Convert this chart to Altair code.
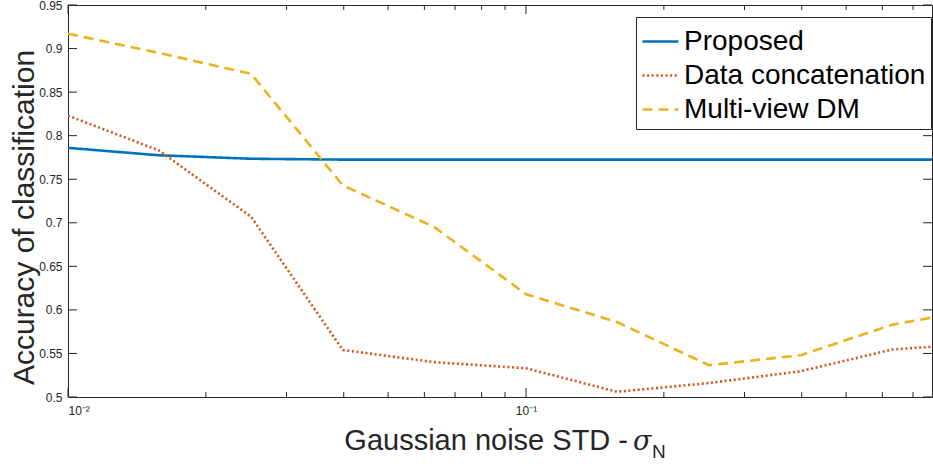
import altair as alt
import pandas as pd

# ---- data ----
noise_std = [0.01, 0.0158, 0.0251, 0.0398, 0.0631, 0.1, 0.158, 0.251, 0.398, 0.631, 1.0]
proposed = [0.786, 0.7775, 0.7735, 0.7725, 0.7725, 0.7725, 0.7725, 0.7725, 0.7725, 0.7725, 0.7725]
data_concat = [0.823, 0.783, 0.707, 0.554, 0.540, 0.533, 0.506, 0.516, 0.5296, 0.5546, 0.5617]
multiview_dm = [0.917, 0.895, 0.871, 0.743, 0.695, 0.618, 0.586, 0.5365, 0.548, 0.583, 0.602]
series_names = ["Proposed", "Data concatenation", "Multi-view DM"]
series_colors = ["#0072BD", "#D95319", "#EDB120"]
series_dash = [[1, 0], [2, 2.6], [10, 6]]

y_ticks = [0.5, 0.55, 0.6, 0.65, 0.7, 0.75, 0.8, 0.85, 0.9, 0.95]
x_major_ticks = [0.01, 0.1]
x_minor_ticks = [0.02, 0.03, 0.04, 0.05, 0.06, 0.07, 0.08, 0.09,
                 0.2, 0.3, 0.4, 0.5, 0.6, 0.7]
x_domain = [0.01, 0.77]
y_domain = [0.5, 0.95]

y_title = "Accuracy of classification"
x_title_main = ["Gaussian noise STD -"]
x_title_sigma = ["σ"]
x_title_sub = ["N"]

W, H = 864, 392
AX = "#262626"
FONT = "Liberation Sans"

rows = []
for name, vals in zip(series_names, [proposed, data_concat, multiview_dm]):
    for xv, yv in zip(noise_std, vals):
        rows.append({"x": xv, "acc": yv, "series": name})
df = pd.DataFrame(rows)

xscale = alt.Scale(type="log", domain=x_domain, nice=False)
yscale = alt.Scale(domain=y_domain, nice=False, zero=False)

x_axis = alt.Axis(values=x_major_ticks, title=None, domain=False, ticks=False, grid=False,
                  labelExpr="datum.value < 0.05 ? '10⁻²' : '10⁻¹'",
                  labelPadding=8, labelFontSize=12)
y_axis = alt.Axis(values=y_ticks, format=".2~f", domain=False, ticks=False, grid=False,
                  title=y_title, titleFontSize=30,
                  titleFontWeight="normal", titleColor=AX, titleFont=FONT,
                  titleAngle=270, titleX=-35, titleY=212, titleBaseline="alphabetic",
                  titleAlign="center", labelPadding=6, labelFontSize=12)

lines = alt.Chart(df).mark_line(strokeWidth=2.6, clip=True).encode(
    x=alt.X("x:Q", scale=xscale, axis=x_axis),
    y=alt.Y("acc:Q", scale=yscale, axis=y_axis),
    color=alt.Color("series:N", scale=alt.Scale(domain=series_names, range=series_colors),
                    legend=alt.Legend(title=None)),
    strokeDash=alt.StrokeDash("series:N", scale=alt.Scale(domain=series_names, range=series_dash),
                              legend=alt.Legend(title=None)),
)

yt = pd.DataFrame({"acc": y_ticks})
xmaj = pd.DataFrame({"x": x_major_ticks})
xmin = pd.DataFrame({"x": x_minor_ticks})

def yrule(x0, x1):
    return alt.Chart(yt).mark_rule(color=AX, strokeWidth=1).encode(
        y=alt.Y("acc:Q", scale=yscale, axis=y_axis), x=alt.value(x0), x2=alt.value(x1))

def xrule(df_, y0, y1):
    return alt.Chart(df_).mark_rule(color=AX, strokeWidth=1).encode(
        x=alt.X("x:Q", scale=xscale, axis=x_axis), y=alt.value(y0), y2=alt.value(y1))

ticks = [
    yrule(0, 9), yrule(W - 9, W),
    xrule(xmaj, H, H - 9), xrule(xmaj, 0, 9),
    xrule(xmin, H, H - 5), xrule(xmin, 0, 5),
]

t_main = alt.Chart(pd.DataFrame({"t": x_title_main})).mark_text(
    font=FONT, fontSize=29, color=AX, align="right", baseline="alphabetic").encode(
    text="t:N", x=alt.value(560), y=alt.value(445))
t_sigma = alt.Chart(pd.DataFrame({"t": x_title_sigma})).mark_text(
    font="DejaVu Serif", fontSize=27, fontStyle="italic", color=AX, align="left",
    baseline="alphabetic").encode(text="t:N", x=alt.value(565), y=alt.value(445))
t_sub = alt.Chart(pd.DataFrame({"t": x_title_sub})).mark_text(
    font=FONT, fontSize=19, color=AX, align="left", baseline="alphabetic").encode(
    text="t:N", x=alt.value(584), y=alt.value(453))

chart = alt.layer(lines, *ticks, t_main, t_sigma, t_sub).properties(
    width=W, height=H,
    padding={"left": 68, "top": 5, "right": 1, "bottom": 67},
    autosize="none",
    background="white",
).configure_view(
    stroke=AX, strokeWidth=1,
).configure_axis(
    labelFont=FONT, labelColor=AX,
).configure_legend(
    orient="none", legendX=568, legendY=12,
    symbolType="stroke", symbolSize=1296, symbolStrokeWidth=2.6,
    labelFont=FONT, labelFontSize=28, labelColor="black", labelLimit=400, labelOffset=4,
    strokeColor=AX, fillColor="white", padding=5, rowPadding=0,
)

chart.save("out.html", embed_options={"renderer": "svg", "actions": False})
